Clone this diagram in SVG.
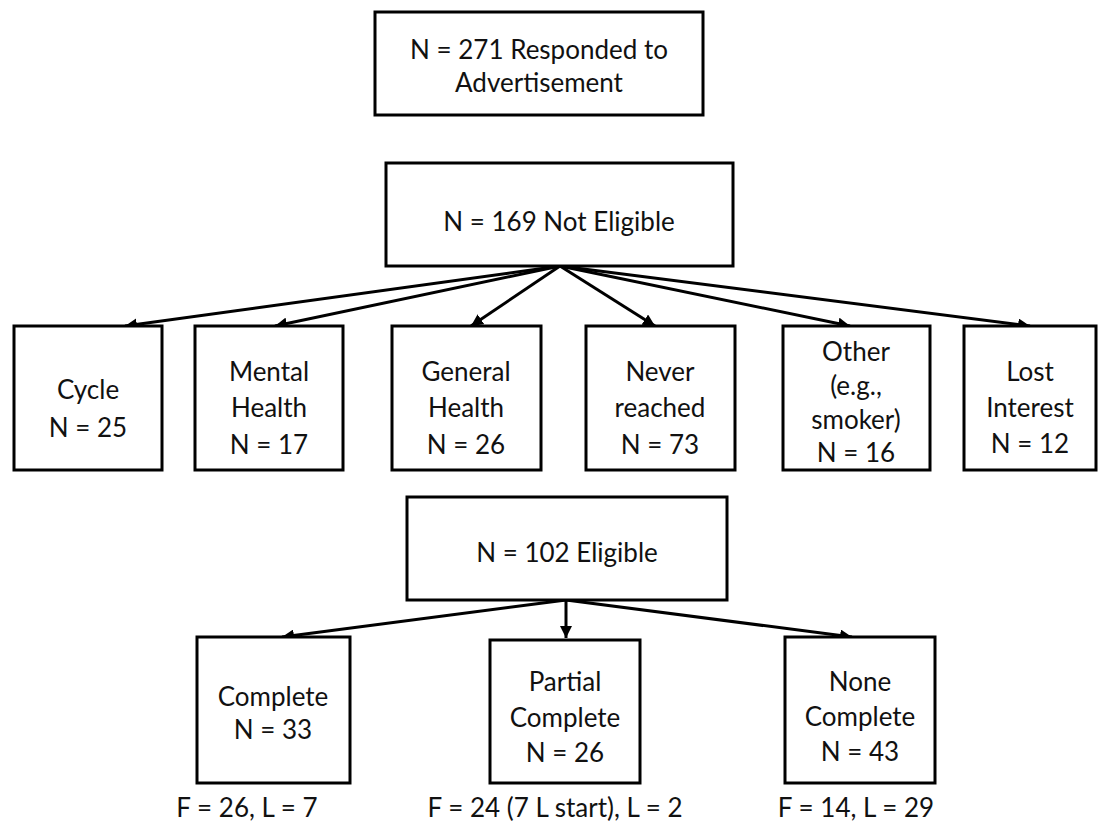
<svg xmlns="http://www.w3.org/2000/svg" width="1101" height="822" viewBox="0 0 1101 822">
<style>
.box{fill:#fff;stroke:#000;stroke-width:3}
.t{font-family:Lato,"Liberation Sans",sans-serif;font-size:26px;fill:#111;text-anchor:middle}
.c{stroke:#000;stroke-width:3;fill:none}
</style>
<defs>
<marker id="ah" markerUnits="userSpaceOnUse" markerWidth="14" markerHeight="12" refX="12" refY="6" orient="auto">
<path d="M0,0 L12,6 L0,12 Z" fill="#000"/>
</marker>
</defs>
<rect width="1101" height="822" fill="#fff"/>
<g id="connectors">
<line class="c" x1="560" y1="266" x2="125" y2="326" marker-end="url(#ah)"/>
<line class="c" x1="560" y1="266" x2="275" y2="326" marker-end="url(#ah)"/>
<line class="c" x1="560" y1="266" x2="471" y2="326" marker-end="url(#ah)"/>
<line class="c" x1="560" y1="266" x2="655" y2="326" marker-end="url(#ah)"/>
<line class="c" x1="560" y1="266" x2="850" y2="326" marker-end="url(#ah)"/>
<line class="c" x1="560" y1="266" x2="1030" y2="326" marker-end="url(#ah)"/>
<line class="c" x1="566" y1="600" x2="282" y2="637" marker-end="url(#ah)"/>
<line class="c" x1="566" y1="600" x2="566" y2="638" marker-end="url(#ah)"/>
<line class="c" x1="566" y1="600" x2="852" y2="637" marker-end="url(#ah)"/>
</g>
<g id="n-responded">
<rect class="box" x="375" y="12" width="328" height="103"/>
<text class="t" x="539" y="59">N = 271 Responded to</text>
<text class="t" x="539" y="92">Advertisement</text>
</g>
<g id="n-noteligible">
<rect class="box" x="386" y="163" width="347" height="103"/>
<text class="t" x="559" y="231">N = 169 Not Eligible</text>
</g>
<g id="n-cycle">
<rect class="box" x="14" y="326" width="148" height="144"/>
<text class="t" x="88" y="399">Cycle</text>
<text class="t" x="88" y="437">N = 25</text>
</g>
<g id="n-mental">
<rect class="box" x="195" y="326" width="148" height="144"/>
<text class="t" x="269" y="381">Mental</text>
<text class="t" x="269" y="417">Health</text>
<text class="t" x="269" y="454">N = 17</text>
</g>
<g id="n-general">
<rect class="box" x="392" y="326" width="149" height="144"/>
<text class="t" x="466" y="381">General</text>
<text class="t" x="466" y="417">Health</text>
<text class="t" x="466" y="454">N = 26</text>
</g>
<g id="n-never">
<rect class="box" x="586" y="326" width="149" height="144"/>
<text class="t" x="660" y="381">Never</text>
<text class="t" x="660" y="417">reached</text>
<text class="t" x="660" y="454">N = 73</text>
</g>
<g id="n-other">
<rect class="box" x="783" y="326" width="147" height="144"/>
<text class="t" x="856" y="361">Other</text>
<text class="t" x="856" y="395">(e.g.,</text>
<text class="t" x="856" y="429">smoker)</text>
<text class="t" x="856" y="462">N = 16</text>
</g>
<g id="n-lost">
<rect class="box" x="964" y="326" width="132" height="144"/>
<text class="t" x="1030" y="381">Lost</text>
<text class="t" x="1030" y="417">Interest</text>
<text class="t" x="1030" y="453">N = 12</text>
</g>
<g id="n-eligible">
<rect class="box" x="407" y="497" width="320" height="103"/>
<text class="t" x="567" y="562">N = 102 Eligible</text>
</g>
<g id="n-complete">
<rect class="box" x="197" y="637" width="153" height="146"/>
<text class="t" x="273" y="706">Complete</text>
<text class="t" x="273" y="739">N = 33</text>
<text class="t" x="247" y="817">F = 26, L = 7</text>
</g>
<g id="n-partial">
<rect class="box" x="490" y="640" width="150" height="143"/>
<text class="t" x="565" y="691">Partial</text>
<text class="t" x="565" y="727">Complete</text>
<text class="t" x="565" y="762">N = 26</text>
<text class="t" x="555" y="817">F = 24 (7 L start), L = 2</text>
</g>
<g id="n-none">
<rect class="box" x="785" y="637" width="150" height="146"/>
<text class="t" x="860" y="691">None</text>
<text class="t" x="860" y="726">Complete</text>
<text class="t" x="860" y="761">N = 43</text>
<text class="t" x="856" y="817">F = 14, L = 29</text>
</g>
</svg>
